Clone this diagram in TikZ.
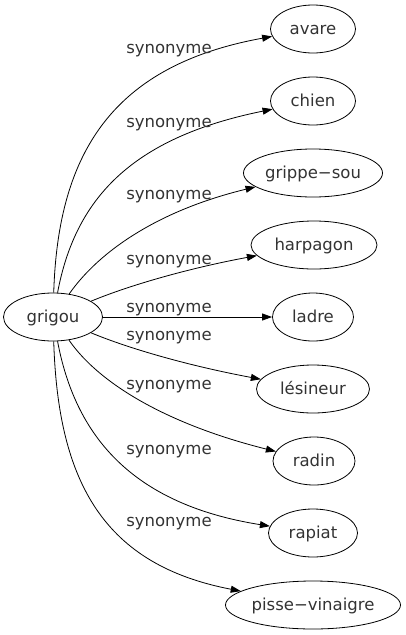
\documentclass[tikz,border=0pt]{standalone}
\usepackage{fontspec}
\setmainfont{DejaVu Sans}
\usetikzlibrary{shapes.geometric,arrows.meta}
\begin{document}
\begin{tikzpicture}[x=1pt,y=-1pt,
  every node/.style={font=\fontsize{16.5}{20}\selectfont, text=black!80},
  word/.style={ellipse, draw, line width=0.8pt, minimum height=48pt, inner sep=0pt, text height=14pt, text depth=3pt},
  rel/.style={-{Triangle[length=10pt,width=7pt]}, line width=0.8pt},
  lab/.style={anchor=base, inner sep=0pt}]
\useasboundingbox (0,0) rectangle (406,635);
\node[word, minimum width=99pt] (grigou) at (53,317) {grigou};
\node[word, minimum width=85pt] (avare) at (313,29) {avare};
\node[word, minimum width=85pt] (chien) at (313,101) {chien};
\node[word, minimum width=139pt] (grippe) at (313,173) {grippe−sou};
\node[word, minimum width=126pt] (harpagon) at (314,245) {harpagon};
\node[word, minimum width=81pt] (ladre) at (313,317) {ladre};
\node[word, minimum width=113pt] (lesineur) at (313,389) {lésineur};
\node[word, minimum width=82pt] (radin) at (314,461) {radin};
\node[word, minimum width=89pt] (rapiat) at (313,533) {rapiat};
\node[word, minimum width=175pt] (pisse) at (313,605) {pisse−vinaigre};

\draw[rel] (grigou) .. controls (58,150) and (115,65) .. (avare);
\draw[rel] (grigou) .. controls (75,200) and (130,138) .. (chien);
\draw[rel] (grigou) .. controls (100,250) and (160,210) .. (grippe);
\draw[rel] (grigou) .. controls (130,285) and (190,268) .. (harpagon);
\draw[rel] (grigou) -- (ladre);
\draw[rel] (grigou) .. controls (130,349) and (190,366) .. (lesineur);
\draw[rel] (grigou) .. controls (100,385) and (170,425) .. (radin);
\draw[rel] (grigou) .. controls (75,434) and (130,504) .. (rapiat);
\draw[rel] (grigou) .. controls (58,484) and (105,565) .. (pisse);

\node[lab] (l1) at (169,53) {synonyme};
\node[lab] (l2) at (169,127.7) {synonyme};
\node[lab] (l3) at (169,199.3) {synonyme};
\node[lab] (l4) at (169,264) {synonyme};
\node[lab] (l5) at (169,312) {synonyme};
\node[lab] (l6) at (169,340) {synonyme};
\node[lab] (l7) at (169,389.3) {synonyme};
\node[lab] (l8) at (169,454) {synonyme};
\node[lab] (l9) at (169,526.7) {synonyme};
\end{tikzpicture}
\end{document}
